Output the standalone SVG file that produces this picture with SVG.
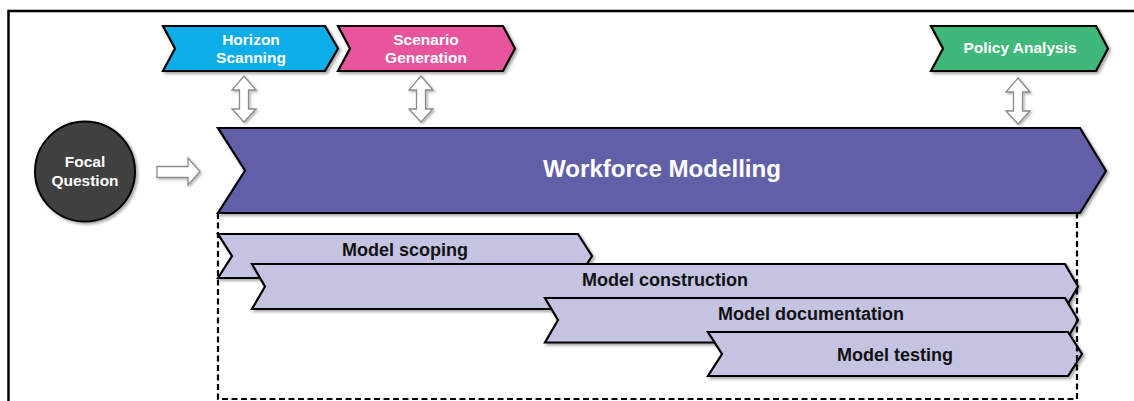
<svg xmlns="http://www.w3.org/2000/svg" width="1134" height="401" viewBox="0 0 1134 401">
  <defs>
    <filter id="shadow" x="-5%" y="-10%" width="115%" height="130%">
      <feDropShadow dx="2" dy="2" stdDeviation="1.5" flood-color="#000" flood-opacity="0.35"/>
    </filter>
    <filter id="softShadow" x="-20%" y="-20%" width="150%" height="150%">
      <feDropShadow dx="1.5" dy="1.5" stdDeviation="1.2" flood-color="#000" flood-opacity="0.3"/>
    </filter>
  </defs>
  <style>
    .chev { stroke: #000; stroke-width: 2.2; stroke-linejoin: miter; filter: url(#shadow); }
    .top-label { font-family: "Liberation Sans", Arial, sans-serif; font-weight: bold; font-size: 15.5px; fill: #fff; text-anchor: middle; }
    .phase { fill: #c5c3e2; }
    .phase-label { font-family: "Liberation Sans", Arial, sans-serif; font-weight: bold; font-size: 18px; fill: #111; text-anchor: middle; }
    .hollow { fill: #fff; stroke: #8a8a8a; stroke-width: 1.3; stroke-linejoin: miter; filter: url(#softShadow); }
  </style>

  <rect width="1134" height="401" fill="#fff"/>

  <!-- outer frame (left and top edges) -->
  <path d="M8.5,401 V11 H1134" fill="none" stroke="#000" stroke-width="2.5"/>

  <!-- upstream activities -->
  <g id="horizon-scanning">
    <path class="chev" fill="#0aade9" d="M163,26 H325 L338,48.5 L325,71 H163 L175,48.5 Z"/>
    <text class="top-label" x="251" y="45">Horizon</text>
    <text class="top-label" x="251" y="63">Scanning</text>
  </g>
  <g id="scenario-generation">
    <path class="chev" fill="#e9559d" d="M338,26 H503 L515,48.5 L503,71 H338 L350,48.5 Z"/>
    <text class="top-label" x="426" y="45">Scenario</text>
    <text class="top-label" x="426" y="63">Generation</text>
  </g>
  <g id="policy-analysis">
    <path class="chev" fill="#3fb879" d="M931,26 H1096 L1108,48.5 L1096,71 H931 L943,48.5 Z"/>
    <text class="top-label" x="1020" y="53">Policy Analysis</text>
  </g>

  <!-- focal question -->
  <g id="focal-question">
    <circle cx="85" cy="171.5" r="50" fill="#404040" stroke="#000" stroke-width="2" filter="url(#shadow)"/>
    <text class="top-label" x="85" y="167">Focal</text>
    <text class="top-label" x="85" y="186">Question</text>
  </g>

  <!-- main process bar -->
  <g id="workforce-modelling">
    <path class="chev" fill="#625ea9" d="M218,128 H1080 L1106,171 L1080,213 H218 L245,170.5 Z"/>
    <text x="662" y="177" font-family="'Liberation Sans', Arial, sans-serif" font-weight="bold" font-size="23" fill="#fff" text-anchor="middle" textLength="238" lengthAdjust="spacingAndGlyphs">Workforce Modelling</text>
  </g>

  <!-- modelling phases, later phases overlap earlier ones -->
  <g id="model-scoping">
    <path class="chev phase" d="M218,234 H578 L592,256 L578,278 H218 L232,256 Z"/>
    <text class="phase-label" x="405" y="256">Model scoping</text>
  </g>
  <g id="model-construction">
    <path class="chev phase" d="M252,264 H1065 L1078,286.5 L1065,309 H252 L265,286.5 Z"/>
    <text class="phase-label" x="665" y="286">Model construction</text>
  </g>
  <g id="model-documentation">
    <path class="chev phase" d="M545,298 H1065 L1078,320 L1065,342.5 H545 L558,320 Z"/>
    <text class="phase-label" x="811" y="320">Model documentation</text>
  </g>
  <g id="model-testing">
    <path class="chev phase" d="M708,332 H1068 L1082,354 L1068,376 H708 L722,354 Z"/>
    <text class="phase-label" x="895" y="361">Model testing</text>
  </g>

  <!-- connectors -->
  <g id="connectors">
    <!-- detail boundary of the modelling phases -->
    <path d="M218,213 V399 H1077 V213" fill="none" stroke="#000" stroke-width="2.2" stroke-dasharray="6,3.5"/>
    <!-- focal question feeds the model -->
    <path class="hollow" d="M157,166.5 H188 V158 L200,171.5 L188,185 V177.5 H157 Z"/>
    <!-- two-way links between activities and the model -->
    <path class="hollow" d="M244,76 L256,90 H248.5 V109 H256 L244,122 L232,109 H239.5 V90 H232 Z"/>
    <path class="hollow" d="M421,76 L433,90 H425.5 V109 H433 L421,122 L409,109 H416.5 V90 H409 Z"/>
    <path class="hollow" d="M1018,78 L1030,92 H1022.5 V111 H1030 L1018,124 L1006,111 H1013.5 V92 H1006 Z"/>
  </g>
</svg>
